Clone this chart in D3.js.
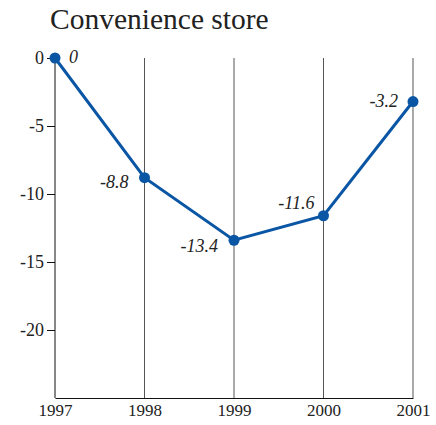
<!DOCTYPE html>
<html><head><meta charset="utf-8">
<script src="https://cdn.jsdelivr.net/npm/d3@7"></script>
<style>body{margin:0;background:#fff}svg{display:block}svg text{font-family:"Liberation Serif","Times New Roman",serif}</style>
</head><body>
<script>
const title = "Convenience store";
const years = ["1997","1998","1999","2000","2001"];
const values = [0, -8.8, -13.4, -11.6, -3.2];
const yTicks = [0, -5, -10, -15, -20];

const W = 436, H = 425;
const svg = d3.select("body").append("svg").attr("width", W).attr("height", H);
const font = "'Liberation Serif', 'Times New Roman', serif";
const fmt = v => String(v);
// label offsets (dx, dy, anchor) per point index
const labelOffsets = [[14, 5, "start"], [-16, 10, "end"], [-16, 12, "end"], [-9, -7, "end"], [-15, 5, "end"]];

const x = d3.scalePoint().domain(years).range([55, 413]);
const y = d3.scaleLinear().domain([-25, 0]).range([398, 58]);

svg.append("text").attr("x", 50).attr("y", 29).style("font-family", font)
  .style("font-size", "29.5px").attr("fill", "#222").text(title);

// gridlines
svg.append("g").selectAll("line").data(years.slice(1)).join("line")
  .attr("x1", d => x(d)).attr("x2", d => x(d))
  .attr("y1", y(0)).attr("y2", y(-25))
  .attr("stroke", "#555").attr("stroke-width", 1);

// y axis
const ya = svg.append("g").attr("transform", `translate(${x(years[0])},0)`)
  .call(d3.axisLeft(y).tickValues(yTicks).tickSize(8).tickPadding(3).tickFormat(fmt));
ya.attr("font-family", null).attr("font-size", null);
ya.select(".domain").attr("d", `M0,${y(0)}V${y(-25)}`).attr("stroke", "#111");
ya.selectAll(".tick line").attr("stroke", "#111");
ya.selectAll("text").style("font-family", font).style("font-size", "18px").attr("fill", "#222");

// x axis
const xa = svg.append("g").attr("transform", `translate(0,${y(-25)})`)
  .call(d3.axisBottom(x).tickSize(0).tickPadding(6));
xa.attr("font-family", null).attr("font-size", null);
xa.select(".domain").attr("stroke", "#111");
xa.selectAll("text").style("font-family", font).style("font-size", "17px").attr("fill", "#222");

// line
const pts = years.map((d, i) => ({year: d, v: values[i], off: labelOffsets[i]}));
svg.append("path").datum(pts)
  .attr("d", d3.line().x(d => x(d.year)).y(d => y(d.v)))
  .attr("fill", "none").attr("stroke", "#0a56a4").attr("stroke-width", 3);
svg.append("g").selectAll("circle").data(pts).join("circle")
  .attr("cx", d => x(d.year)).attr("cy", d => y(d.v)).attr("r", 5.5)
  .attr("fill", "#0a56a4");

// value labels
svg.append("g").selectAll("text").data(pts).join("text")
  .style("font-family", font).style("font-style", "italic").style("font-size", "18px").attr("fill", "#222")
  .attr("text-anchor", d => d.off[2])
  .attr("x", d => x(d.year) + d.off[0])
  .attr("y", d => y(d.v) + d.off[1])
  .text(d => fmt(d.v));
</script>
</body></html>
